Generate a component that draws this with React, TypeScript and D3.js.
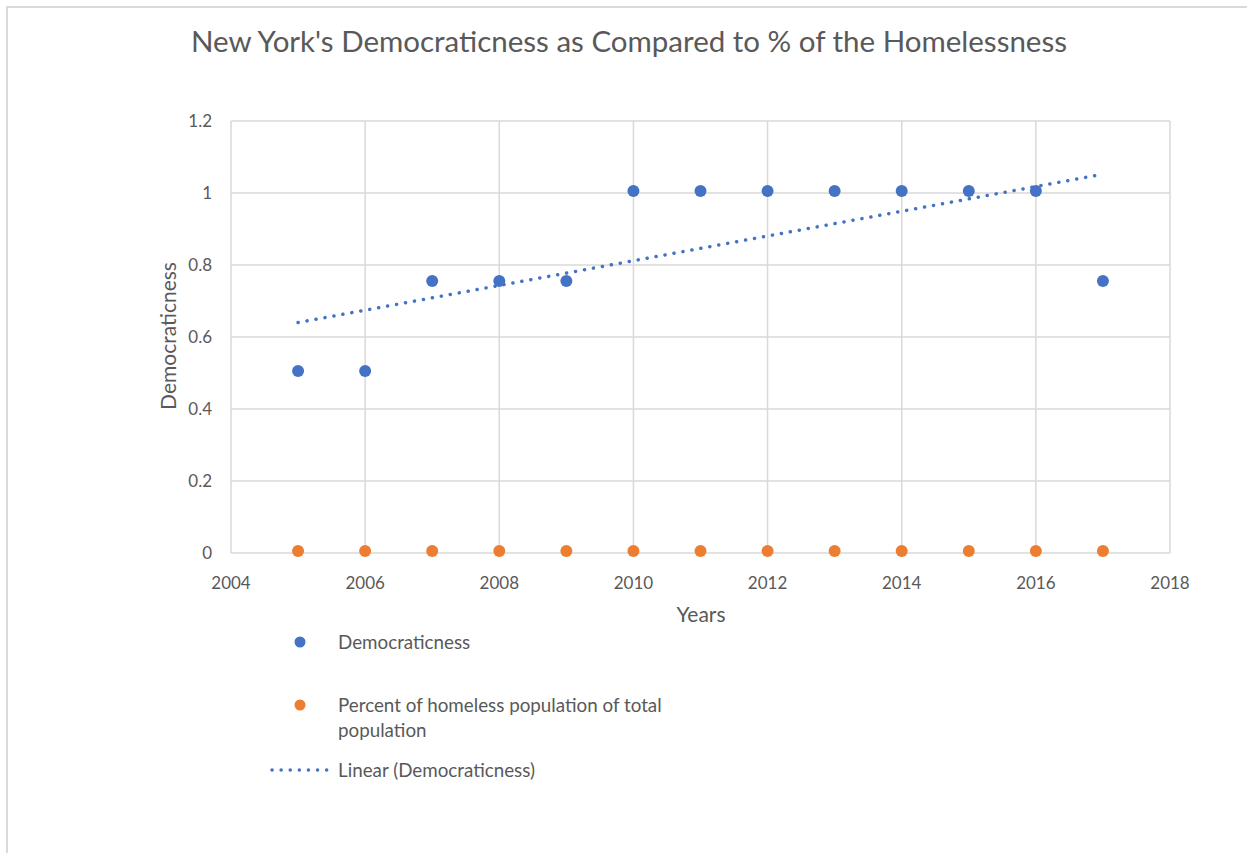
import React, { useEffect, useRef } from 'react';
import * as d3 from 'd3';

const years = [2005, 2006, 2007, 2008, 2009, 2010, 2011, 2012, 2013, 2014, 2015, 2016, 2017];
const democraticness = [0.5, 0.5, 0.75, 0.75, 0.75, 1, 1, 1, 1, 1, 1, 1, 0.75];
const homelessPct = [0, 0, 0, 0, 0, 0, 0, 0, 0, 0, 0, 0, 0];
const xTicks = [2004, 2006, 2008, 2010, 2012, 2014, 2016, 2018];
const yTicks = [0, 0.2, 0.4, 0.6, 0.8, 1, 1.2];

const BLUE = '#4472C4';
const ORANGE = '#ED7D31';
const GRID = '#d9d9d9';
const TEXT = '#595959';
const FONT = 'Lato, "Open Sans", sans-serif';

const App = () => {
  const ref = useRef<SVGSVGElement>(null);

  useEffect(() => {
    const svg = d3.select(ref.current);
    svg.selectAll('*').remove();

    const width = 1247, height = 853;
    const plot = { left: 231, right: 1170, top: 121, bottom: 553 };

    // chart frame
    svg.append('rect')
      .attr('x', 7).attr('y', 7)
      .attr('width', width + 20).attr('height', height + 20)
      .attr('fill', '#fff').attr('stroke', GRID).attr('stroke-width', 2);

    const x = d3.scaleLinear().domain([2004, 2018]).range([plot.left, plot.right]);
    const y = d3.scaleLinear().domain([0, 1.2]).range([plot.bottom, plot.top]);

    // gridlines
    svg.append('g')
      .selectAll('line')
      .data(yTicks)
      .join('line')
        .attr('x1', plot.left).attr('x2', plot.right)
        .attr('y1', d => y(d)).attr('y2', d => y(d))
        .attr('stroke', GRID).attr('stroke-width', 1.5);

    svg.append('g')
      .selectAll('line')
      .data(xTicks)
      .join('line')
        .attr('x1', d => x(d)).attr('x2', d => x(d))
        .attr('y1', plot.top).attr('y2', plot.bottom)
        .attr('stroke', GRID).attr('stroke-width', 1.5);

    // tick labels
    svg.append('g')
      .selectAll('text')
      .data(yTicks)
      .join('text')
        .attr('x', 212)
        .attr('y', d => y(d))
        .attr('dy', '0.35em')
        .attr('text-anchor', 'end')
        .attr('font-family', FONT).attr('font-size', 17).attr('fill', TEXT)
        .text(d => d3.format('~g')(d));

    svg.append('g')
      .selectAll('text')
      .data(xTicks)
      .join('text')
        .attr('x', d => x(d))
        .attr('y', 589)
        .attr('text-anchor', 'middle')
        .attr('font-family', FONT).attr('font-size', 17).attr('fill', TEXT)
        .text(d => d);

    // title + axis titles
    svg.append('text')
      .attr('x', 629).attr('y', 52)
      .attr('text-anchor', 'middle')
      .attr('font-family', FONT).attr('font-size', 29.5).attr('fill', TEXT)
      .text("New York's Democraticness as Compared to % of the Homelessness");

    svg.append('text')
      .attr('x', 701).attr('y', 622)
      .attr('text-anchor', 'middle')
      .attr('font-family', FONT).attr('font-size', 21).attr('fill', TEXT)
      .text('Years');

    svg.append('text')
      .attr('transform', `translate(176, 336) rotate(-90)`)
      .attr('text-anchor', 'middle')
      .attr('font-family', FONT).attr('font-size', 21).attr('fill', TEXT)
      .text('Democraticness');

    // linear trendline (least squares on Democraticness)
    const mx = d3.mean(years)!, my = d3.mean(democraticness)!;
    const slope = d3.sum(years, (d, i) => (d - mx) * (democraticness[i] - my)) /
      d3.sum(years, d => (d - mx) ** 2);
    const fit = (v: number) => my + slope * (v - mx);
    const x0 = years[0], x1 = years[years.length - 1];

    svg.append('line')
      .attr('x1', x(x0)).attr('y1', y(fit(x0)))
      .attr('x2', x(x1)).attr('y2', y(fit(x1)))
      .attr('stroke', BLUE).attr('stroke-width', 3.5)
      .attr('stroke-linecap', 'round')
      .attr('stroke-dasharray', '0.1 9');

    // points
    svg.append('g')
      .selectAll('circle')
      .data(years)
      .join('circle')
        .attr('cx', d => x(d))
        .attr('cy', (d, i) => y(homelessPct[i]) - 2)
        .attr('r', 6)
        .attr('fill', ORANGE);

    svg.append('g')
      .selectAll('circle')
      .data(years)
      .join('circle')
        .attr('cx', d => x(d))
        .attr('cy', (d, i) => y(democraticness[i]) - 2)
        .attr('r', 6)
        .attr('fill', BLUE);

    // legend
    const legend = svg.append('g').attr('font-family', FONT).attr('font-size', 18.8).attr('fill', TEXT);
    legend.append('circle').attr('cx', 300).attr('cy', 642).attr('r', 5.5).attr('fill', BLUE);
    legend.append('text').attr('x', 338).attr('y', 649).text('Democraticness');
    legend.append('circle').attr('cx', 300).attr('cy', 705).attr('r', 5.5).attr('fill', ORANGE);
    legend.append('text').attr('x', 338).attr('y', 712).text('Percent of homeless population of total');
    legend.append('text').attr('x', 338).attr('y', 737).text('population');
    legend.append('line')
      .attr('x1', 272).attr('x2', 330).attr('y1', 770).attr('y2', 770)
      .attr('stroke', BLUE).attr('stroke-width', 3.5)
      .attr('stroke-linecap', 'round').attr('stroke-dasharray', '0.1 9');
    legend.append('text').attr('x', 338).attr('y', 777).text('Linear (Democraticness)');
  }, []);

  return (
    <svg ref={ref} width={1247} height={853}
      style={{ position: 'absolute', left: 0, top: 0, background: '#fff' }}></svg>
  );
};

export default App;
